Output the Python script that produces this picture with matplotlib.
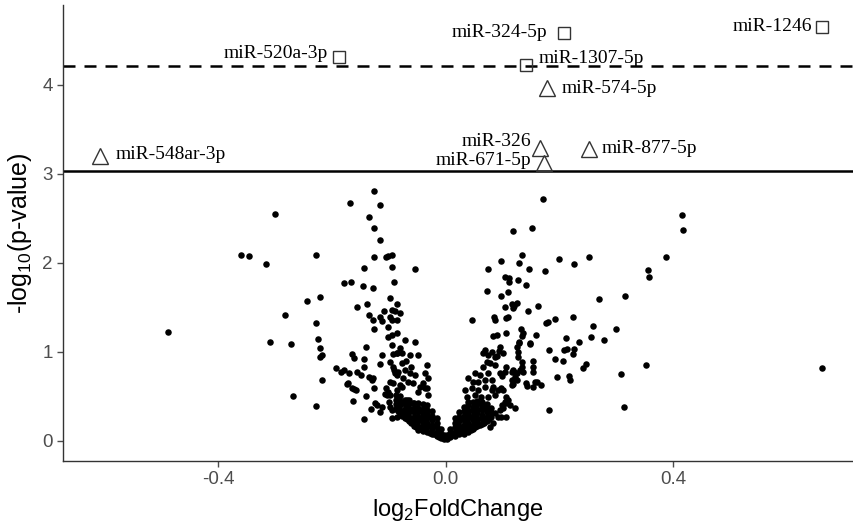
import matplotlib
matplotlib.use("Agg")
import matplotlib.pyplot as plt
import numpy as np

# labelled miRNAs (open markers)
sig_names = ["miR-520a-3p", "miR-548ar-3p", "miR-324-5p", "miR-1246", "miR-1307-5p",
             "miR-574-5p", "miR-326", "miR-671-5p", "miR-877-5p"]
sig_x = [-0.188, -0.608, 0.208, 0.662, 0.141, 0.1775, 0.166, 0.173, 0.252]
sig_y = [4.31, 3.20, 4.58, 4.65, 4.22, 3.96, 3.285, 3.12, 3.28]
sig_marker = ["s", "^", "s", "s", "s", "^", "^", "^", "^"]

# threshold lines
cut_dashed = 4.21
cut_solid = 3.03

# remaining miRNAs (log2FC, -log10 p)
left_pts = [
    (-0.488, 1.22), (-0.359, 2.09), (-0.346, 2.075), (-0.126, 2.80), (-0.168, 2.67),
    (-0.1155, 2.65), (-0.300, 2.55), (-0.135, 2.51), (-0.126, 2.39), (-0.115, 2.255),
    (-0.316, 1.99), (-0.228, 2.09), (-0.126, 2.06), (-0.1055, 2.06), (-0.101, 2.075),
    (-0.095, 2.09), (-0.1436, 1.94), (-0.095, 1.95), (-0.178, 1.77), (-0.167, 1.78),
    (-0.1455, 1.74), (-0.128, 1.71), (-0.0915, 1.78), (-0.244, 1.57), (-0.22, 1.615),
    (-0.156, 1.50), (-0.139, 1.54), (-0.098, 1.60), (-0.2825, 1.41), (-0.135, 1.415),
    (-0.1085, 1.46), (-0.095, 1.47), (-0.0886, 1.46), (-0.085, 1.54), (-0.1155, 1.39),
    (-0.098, 1.39), (-0.054, 1.93), (-0.080, 1.43),
    (-0.228, 1.32), (-0.309, 1.11), (-0.2725, 1.09), (-0.224, 1.14), (-0.22, 1.04),
    (-0.218, 0.966), (-0.22, 0.944), (-0.2175, 0.68), (-0.268, 0.50), (-0.228, 0.386),
    (-0.193, 0.817), (-0.184, 0.776), (-0.178, 0.794), (-0.1695, 0.764), (-0.165, 0.97),
    (-0.161, 0.93), (-0.1396, 1.056), (-0.143, 0.915), (-0.143, 0.83), (-0.155, 0.776),
    (-0.148, 0.738), (-0.171, 0.65), (-0.174, 0.637), (-0.165, 0.59), (-0.158, 0.57),
    (-0.161, 0.577), (-0.1625, 0.446), (-0.1396, 0.499), (-0.1436, 0.247), (-0.134, 0.72),
    (-0.13, 0.68), (-0.127, 0.70), (-0.126, 0.596), (-0.132, 0.353), (-0.124, 0.427),
    (-0.121, 0.40), (-0.1155, 0.326), (-0.112, 0.375), (-0.127, 1.356), (-0.1125, 1.34),
    (-0.095, 1.356), (-0.086, 1.356), (-0.126, 1.26), (-0.102, 1.28), (-0.101, 1.17),
    (-0.095, 1.19), (-0.085, 1.21), (-0.095, 1.07), (-0.111, 0.96), (-0.1155, 0.86),
    (-0.098, 0.88), (-0.092, 0.83), (-0.091, 0.79), (-0.089, 0.757), (-0.086, 0.74),
    (-0.093, 0.97), (-0.086, 0.99), (-0.097, 0.66), (-0.092, 0.645), (-0.104, 0.59),
    (-0.101, 0.55), (-0.107, 0.53), (-0.103, 0.51), (-0.098, 0.51), (-0.1, 0.44),
    (-0.098, 0.38), (-0.095, 0.345), (-0.086, 0.375), (-0.095, 0.26), (-0.085, 0.27),
    (-0.0716, 1.13), (-0.054, 1.11), (-0.080, 1.04), (-0.086, 0.98), (-0.077, 0.98),
    (-0.063, 0.96), (-0.048, 0.96), (-0.033, 0.85), (-0.077, 0.87), (-0.069, 0.89),
    (-0.060, 0.83), (-0.0716, 0.79), (-0.083, 0.775), (-0.063, 0.757), (-0.054, 0.74),
    (-0.0745, 0.70), (-0.066, 0.663), (-0.057, 0.645), (-0.045, 0.607), (-0.036, 0.59),
    (-0.080, 0.626), (-0.086, 0.57), (-0.048, 0.55), (-0.0306, 0.513),
    (-0.036, 0.757), (-0.0306, 0.70), (-0.039, 0.645), (-0.033, 0.59),
    (-0.077, 0.607), (-0.0686, 0.457), (-0.057, 0.42), (-0.048, 0.345), (-0.039, 0.27),
    (-0.045, 0.25), (-0.063, 0.345),
]

right_pts = [
    (0.1705, 2.715), (0.118, 2.35), (0.151, 2.39), (0.1336, 2.086), (0.0967, 2.02),
    (0.129, 2.00), (0.1987, 2.045), (0.225, 1.99), (0.2514, 2.06), (0.075, 1.93),
    (0.1465, 1.93), (0.1746, 1.905), (0.1048, 1.836), (0.1107, 1.825), (0.1118, 1.786),
    (0.1266, 1.80), (0.1407, 1.753), (0.072, 1.685), (0.0967, 1.63), (0.110, 1.67),
    (0.269, 1.59), (0.3147, 1.626), (0.1048, 1.50), (0.116, 1.54), (0.120, 1.51),
    (0.1248, 1.544), (0.1189, 1.49), (0.144, 1.46), (0.1618, 1.51), (0.046, 1.356),
    (0.0855, 1.39), (0.106, 1.38), (0.110, 1.39), (0.1927, 1.37), (0.2233, 1.39),
    (0.415, 2.536), (0.4167, 2.367), (0.387, 2.06), (0.356, 1.92), (0.358, 1.836),
    (0.3517, 0.847), (0.661, 0.82),
    (0.0837, 1.18), (0.107, 1.21), (0.1324, 1.26), (0.1354, 1.21), (0.1342, 1.18),
    (0.158, 1.19), (0.1488, 1.10), (0.129, 1.11), (0.1758, 1.32), (0.1793, 1.33),
    (0.2115, 1.157), (0.2086, 1.02), (0.2127, 1.03), (0.234, 1.11), (0.226, 1.03),
    (0.2244, 0.974), (0.2595, 1.285), (0.2555, 1.17), (0.279, 1.13), (0.299, 1.25),
    (0.181, 1.016), (0.1922, 0.918), (0.2068, 0.90), (0.196, 0.71), (0.2173, 0.727),
    (0.2186, 0.68), (0.241, 0.82), (0.246, 0.86), (0.3077, 0.75), (0.181, 0.348),
    (0.314, 0.375), (0.153, 0.90), (0.154, 0.83), (0.154, 0.776), (0.1417, 0.645),
    (0.1435, 0.615), (0.153, 0.60), (0.16, 0.66), (0.167, 0.626), (0.1336, 0.83),
    (0.1306, 0.79), (0.1354, 0.776), (0.128, 1.0), (0.128, 0.944), (0.125, 1.056),
    (0.129, 1.094), (0.126, 0.68), (0.121, 0.776), (0.116, 0.776), (0.117, 0.626),
    (0.107, 0.83), (0.104, 0.776), (0.0995, 0.73), (0.094, 1.01), (0.0955, 1.05),
    (0.1, 0.99), (0.091, 0.95), (0.149, 1.09), (0.1336, 0.888),
    (0.119, 0.794), (0.125, 0.757), (0.122, 0.72), (0.116, 0.68), (0.0955, 0.757),
    (0.118, 0.634), (0.157, 0.66), (0.098, 0.59), (0.101, 0.57), (0.107, 0.494),
    (0.11, 0.457), (0.1037, 0.44), (0.0997, 0.40), (0.113, 0.40), (0.122, 0.364),
    (0.101, 0.364), (0.0955, 0.345), (0.098, 0.263), (0.106, 0.263),
    (0.084, 0.607), (0.0925, 0.57), (0.107, 0.42), (0.0925, 0.27), (0.084, 0.195),
    (0.078, 0.157), (0.0867, 1.356), (0.0897, 1.19),
    (0.069, 1.02), (0.066, 0.98), (0.075, 0.963), (0.081, 1.0), (0.0867, 0.944),
    (0.072, 0.888), (0.078, 0.87), (0.066, 0.83), (0.0867, 0.85), (0.0515, 0.757),
    (0.060, 0.738), (0.075, 0.757), (0.040, 0.70), (0.0485, 0.663), (0.057, 0.663),
    (0.069, 0.682), (0.081, 0.682), (0.034, 0.57), (0.0457, 0.589), (0.057, 0.57),
    (0.069, 0.607), (0.081, 0.57), (0.037, 0.494), (0.0515, 0.513), (0.063, 0.494),
    (0.075, 0.494), (0.0867, 0.513),
]

# dense bottom of the volcano, left and right arms
core_left = [
    (-0.088, 0.36), (-0.088, 0.41), (-0.088, 0.46), (-0.088, 0.51),
    (-0.080, 0.30), (-0.080, 0.35), (-0.080, 0.40), (-0.080, 0.45), (-0.080, 0.50),
    (-0.072, 0.26), (-0.072, 0.31), (-0.072, 0.36), (-0.072, 0.41), (-0.072, 0.46),
    (-0.064, 0.22), (-0.064, 0.27), (-0.064, 0.32), (-0.064, 0.37), (-0.064, 0.42), (-0.064, 0.46),
    (-0.056, 0.17), (-0.056, 0.22), (-0.056, 0.27), (-0.056, 0.32), (-0.056, 0.37), (-0.056, 0.42),
    (-0.048, 0.12), (-0.048, 0.17), (-0.048, 0.22), (-0.048, 0.27), (-0.048, 0.32), (-0.048, 0.37),
    (-0.048, 0.42), (-0.040, 0.11), (-0.040, 0.16), (-0.040, 0.21), (-0.040, 0.26), (-0.040, 0.31),
    (-0.040, 0.36), (-0.040, 0.41), (-0.032, 0.10), (-0.032, 0.15), (-0.032, 0.20), (-0.032, 0.25),
    (-0.032, 0.30), (-0.032, 0.35), (-0.032, 0.40), (-0.024, 0.08), (-0.024, 0.13), (-0.024, 0.18),
    (-0.024, 0.23), (-0.024, 0.28), (-0.024, 0.33), (-0.016, 0.05), (-0.016, 0.10), (-0.016, 0.15),
    (-0.016, 0.20), (-0.016, 0.25), (-0.008, 0.03), (-0.008, 0.08), (-0.008, 0.13),
    (-0.002, 0.02), (-0.002, 0.06),
    (-0.084, 0.33), (-0.076, 0.28), (-0.068, 0.24), (-0.060, 0.20), (-0.052, 0.15),
    (-0.044, 0.13), (-0.036, 0.12), (-0.028, 0.09), (-0.020, 0.07), (-0.012, 0.04),
]
core_right = [
    (0.002, 0.02), (0.002, 0.06), (0.008, 0.04), (0.008, 0.09), (0.008, 0.13),
    (0.016, 0.05), (0.016, 0.10), (0.016, 0.15), (0.016, 0.20), (0.016, 0.25),
    (0.024, 0.07), (0.024, 0.12), (0.024, 0.17), (0.024, 0.22), (0.024, 0.27), (0.024, 0.32),
    (0.032, 0.08), (0.032, 0.13), (0.032, 0.18), (0.032, 0.23), (0.032, 0.28), (0.032, 0.33),
    (0.032, 0.38), (0.040, 0.10), (0.040, 0.15), (0.040, 0.20), (0.040, 0.25), (0.040, 0.30),
    (0.040, 0.35), (0.040, 0.40), (0.040, 0.44), (0.048, 0.13), (0.048, 0.18), (0.048, 0.23),
    (0.048, 0.28), (0.048, 0.33), (0.048, 0.38), (0.048, 0.43), (0.056, 0.16), (0.056, 0.21),
    (0.056, 0.26), (0.056, 0.31), (0.056, 0.36), (0.056, 0.41), (0.056, 0.45), (0.064, 0.19),
    (0.064, 0.24), (0.064, 0.29), (0.064, 0.34), (0.064, 0.39), (0.064, 0.43), (0.072, 0.22),
    (0.072, 0.27), (0.072, 0.32), (0.072, 0.37), (0.072, 0.41), (0.080, 0.27), (0.080, 0.32),
    (0.080, 0.37), (0.086, 0.31),
    (0.012, 0.07), (0.020, 0.09), (0.028, 0.10), (0.036, 0.11), (0.044, 0.12),
    (0.052, 0.15), (0.060, 0.18), (0.068, 0.20), (0.076, 0.24),
]

x_ticks = [-0.4, 0.0, 0.4]
y_ticks = [0, 1, 2, 3, 4]

plt.rcParams['font.family'] = ['Liberation Sans', 'DejaVu Sans']
plt.rcParams['mathtext.fontset'] = 'custom'
plt.rcParams['mathtext.rm'] = 'Liberation Sans'

fig = plt.figure(figsize=(8.54, 5.22), dpi=100)
ax = fig.add_axes([0.0741, 0.1169, 0.9247, 0.8736])

pts = np.array(left_pts + right_pts + core_left + core_right)
ax.scatter(pts[:, 0], pts[:, 1], s=22, color='black', linewidths=0, zorder=2)

ax.axhline(cut_dashed, color='black', lw=1.8, ls=(0, (4.8, 3.6)), zorder=1)
ax.axhline(cut_solid, color='black', lw=1.8, zorder=1)

# label offsets in pixels (dx, dy) and alignment
label_pos = {
    "miR-520a-3p": (-11, 4, 'right'),
    "miR-548ar-3p": (16, 1, 'left'),
    "miR-324-5p": (-17, 0, 'right'),
    "miR-1246": (-10, 0, 'right'),
    "miR-1307-5p": (13, 7, 'left'),
    "miR-574-5p": (15, 0, 'left'),
    "miR-326": (-9, 7, 'right'),
    "miR-671-5p": (-13, 2, 'right'),
    "miR-877-5p": (13, 0, 'left'),
}

for name, x, y, m in zip(sig_names, sig_x, sig_y, sig_marker):
    ms = 9 if m == 's' else 11
    ax.plot(x, y, marker=m, ms=ms, mfc='none', mec='#333333', mew=1.0, ls='none', zorder=3)
    dx, dy, ha = label_pos[name]
    ax.annotate(name, (x, y), xytext=(dx, dy), textcoords='offset pixels',
                ha=ha, va='center', fontsize=14, family='Liberation Serif', color='black')

ax.set_xlim(-0.672, 0.716)
ax.set_ylim(-0.228, 4.895)
ax.set_xticks(x_ticks)
ax.set_xticklabels(["-0.4", "0.0", "0.4"])
ax.set_yticks(y_ticks)

for side in ['top', 'right']:
    ax.spines[side].set_visible(False)
for side in ['left', 'bottom']:
    ax.spines[side].set_color('#333333')
    ax.spines[side].set_linewidth(1.0)

ax.tick_params(axis='both', colors='#4D4D4D', labelsize=13.5, length=4, width=1)
ax.set_xlabel(r'log$_{\mathregular{2}}$FoldChange', fontsize=17, color='black', labelpad=6)
ax.set_ylabel(r'-log$_{\mathregular{10}}$(p-value)', fontsize=18, color='black', labelpad=6)

fig.savefig('out.png', dpi=100)
